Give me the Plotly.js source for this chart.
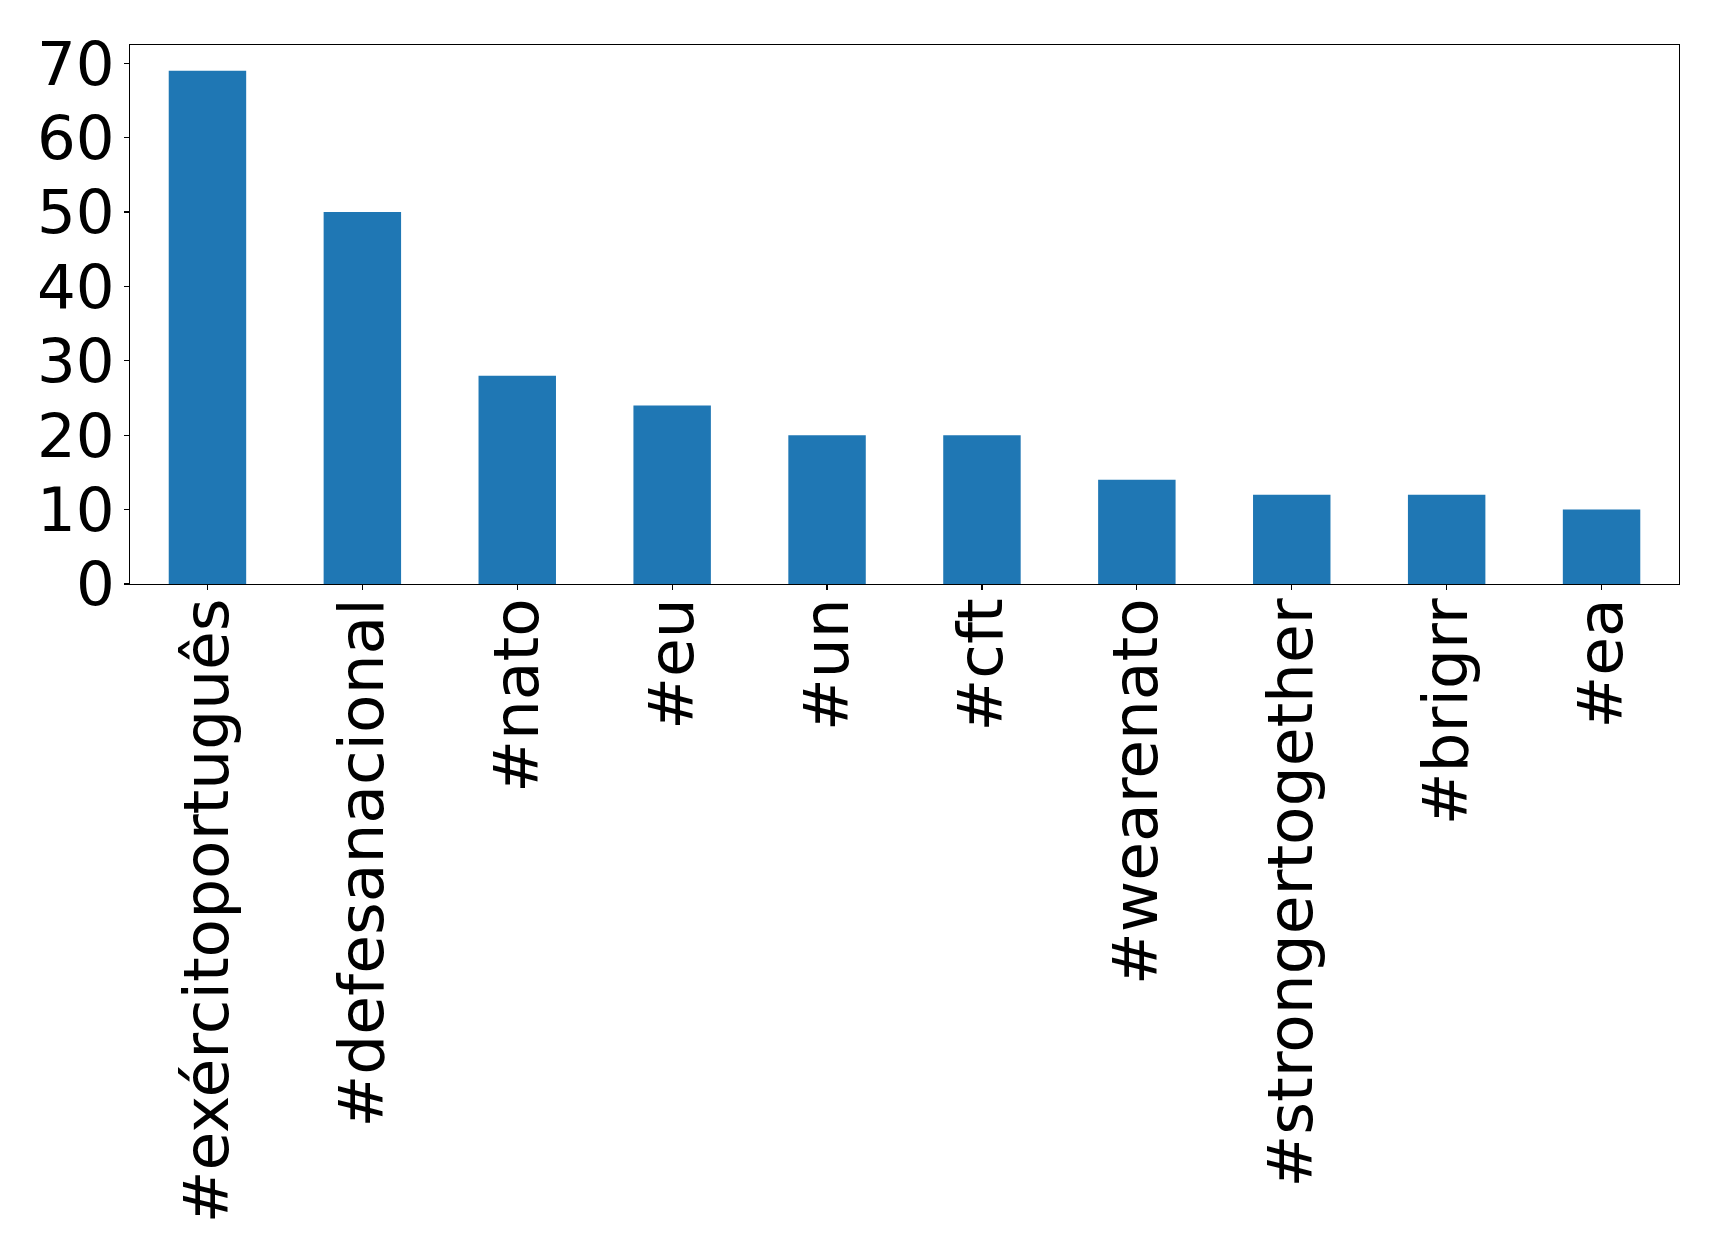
<!DOCTYPE html>
<html>
<head>
<meta charset="utf-8">
<script src="https://cdn.plot.ly/plotly-3.0.1.min.js"></script>
<style>html,body{margin:0;padding:0;background:#fff;}</style>
</head>
<body>
<div id="chart" style="width:1719px;height:1254px;"></div>
<script>
const categories = ["#exércitoportuguês", "#defesanacional", "#nato", "#eu", "#un", "#cft", "#wearenato", "#strongertogether", "#brigrr", "#ea"];
const counts = [69, 50, 28, 24, 20, 20, 14, 12, 12, 10];
const yTickVals = [0, 10, 20, 30, 40, 50, 60, 70];

const trace = {
  type: "bar",
  x: categories,
  y: counts,
  width: 0.5,
  marker: {color: "#1f77b4", line: {width: 0}},
  hoverinfo: "x+y"
};

const layout = {
  width: 1719,
  height: 1254,
  paper_bgcolor: "#ffffff",
  plot_bgcolor: "#ffffff",
  margin: {l: 129.5, r: 40, t: 45, b: 670},
  font: {family: "DejaVu Sans, sans-serif", color: "#000000", size: 62},
  showlegend: false,
  bargap: 0.5,
  xaxis: {
    type: "category",
    range: [-0.5, 9.5],
    tickangle: -90,
    ticks: "outside",
    ticklen: 5,
    tickwidth: 1.1,
    tickcolor: "#000",
    ticklabelstandoff: -17,
    showline: true,
    linecolor: "#000",
    linewidth: 1.1,
    mirror: true,
    showgrid: false,
    zeroline: false,
    tickfont: {family: "DejaVu Sans, sans-serif", size: 63, color: "#000"}
  },
  yaxis: {
    range: [0, 72.45],
    tickvals: yTickVals,
    ticktext: yTickVals.map(String),
    ticks: "outside",
    ticklen: 5,
    tickwidth: 1.1,
    tickcolor: "#000",
    ticklabelstandoff: -3,
    showline: true,
    linecolor: "#000",
    linewidth: 1.1,
    mirror: true,
    showgrid: false,
    zeroline: false,
    tickfont: {family: "DejaVu Sans, sans-serif", size: 61, color: "#000"}
  }
};

Plotly.newPlot("chart", [trace], layout, {displayModeBar: false, staticPlot: true});
</script>
</body>
</html>
